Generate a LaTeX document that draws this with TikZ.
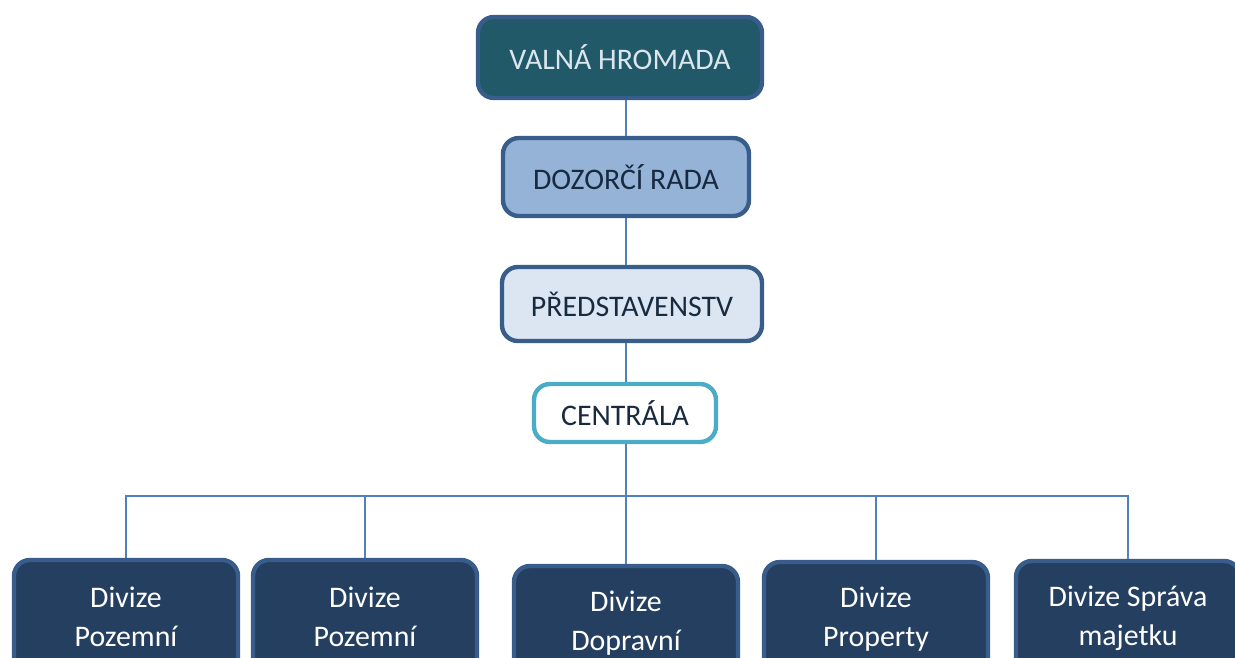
\documentclass[tikz,border=0pt]{standalone}
\usepackage{fontspec}
\setmainfont{Carlito}
\definecolor{tealfill}{HTML}{215968}
\definecolor{boxline}{HTML}{385D8A}
\definecolor{bluefill}{HTML}{95B3D7}
\definecolor{palefill}{HTML}{DCE6F2}
\definecolor{cyanline}{HTML}{4BACC6}
\definecolor{navyfill}{HTML}{253F60}
\definecolor{linkblue}{HTML}{4F81BD}
\definecolor{darktext}{HTML}{172A40}
\definecolor{lighttext}{HTML}{DCE6EE}
\begin{document}
\begin{tikzpicture}[x=0.02cm,y=-0.02cm,
	box/.style={draw=boxline, line width=2.5pt, rounded corners=9pt, align=center, inner sep=0pt,
		text=darktext, font=\fontsize{17}{22}\selectfont},
	division/.style={box, fill=navyfill, text=white, minimum width=4.48cm, minimum height=2.28cm},
	link/.style={draw=linkblue, line width=0.9pt}]
		\useasboundingbox (0,0) rectangle (1235,657);
		\clip (0,0) rectangle (1235,657);
		\node [box, fill=tealfill, text=lighttext, minimum width=5.68cm, minimum height=1.62cm] (vh) at (620,57.5) {VALNÁ HROMADA};
		\node [box, fill=bluefill, minimum width=4.92cm, minimum height=1.56cm] (dr) at (626,177) {DOZORČÍ RADA};
		\node [box, fill=palefill, minimum width=5.2cm, minimum height=1.48cm] (pr) at (632,304) {PŘEDSTAVENSTV};
		\node [box, draw=cyanline, fill=white, minimum width=3.64cm, minimum height=1.16cm] (ce) at (625,413) {CENTRÁLA};
		\coordinate (bus) at (626,496);
		\node [division] (d1) at (126,617) {Divize\\Pozemní};
		\node [division] (d2) at (365,617) {Divize\\Pozemní};
		\node [division] (d3) at (626,623) {Divize\\Dopravní};
		\node [division] (d4) at (876,619) {Divize\\Property};
		\node [division] (d5) at (1128,618) {Divize Správa\\majetku};
		\draw [link] (vh.south -| bus) -- (dr.north -| bus);
		\draw [link] (dr.south -| bus) -- (pr.north -| bus);
		\draw [link] (pr.south -| bus) -- (ce.north -| bus);
		\draw [link] (ce.south -| bus) -- (bus);
		\foreach \d in {d1,d2,d3,d4,d5}
			\draw [link] (bus) -| (\d.north);
	\end{tikzpicture}
\end{document}
